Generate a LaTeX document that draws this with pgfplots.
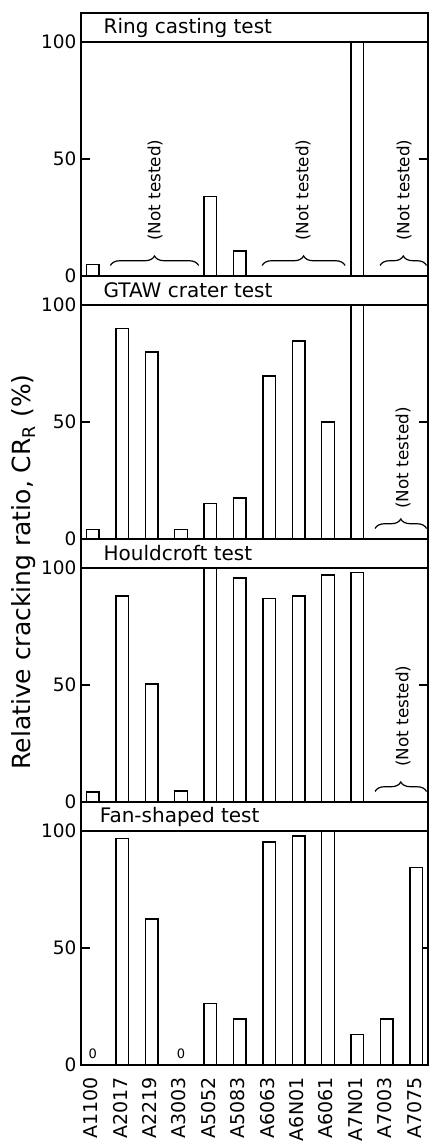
\documentclass[border=0pt]{standalone}
\usepackage{fontspec}
\setmainfont{DejaVu Sans}
\usepackage{pgfplots}
\pgfplotsset{compat=1.18}
\usetikzlibrary{decorations.pathreplacing}

\newcommand{\ntfont}{\fontsize{16.8}{16.8}\selectfont}
\newcommand{\ttlfont}{\fontsize{20}{20}\selectfont}

\tikzset{nt/.style={line width=1.2pt, decorate, decoration={brace, amplitude=9.5pt}}}

\pgfplotsset{
 panel/.style={
  scale only axis, width=347pt, height=263pt,
  anchor=north west,
  xmin=-0.4, xmax=11.4, ymin=0, ymax=112.4,
  axis line style={line width=1.8pt},
  ytick={0,50,100}, ytick pos=both, yticklabel pos=left,
  tick align=inside, major tick length=9pt,
  every tick/.style={black, line width=1.2pt},
  xtick=\empty,
  yticklabel style={font=\fontsize{18.5}{18.5}\selectfont, xshift=-1pt},
  /pgf/number format/assume math mode=true,
  ybar, bar width=12.5pt,
  clip=false,
 },
 barst/.style={draw=black, fill=white, line width=1.4pt, bar shift=0pt},
}

\begin{document}
\begin{tikzpicture}
\useasboundingbox (0,0) rectangle (430pt,-1141pt);

% Panel 1: Ring casting test
\begin{axis}[panel, at={(81pt,-13pt)}]
\addplot[barst] coordinates {(0,5) (4,34) (5,10.7) (9,100)};
\draw[line width=1.5pt] (axis cs:-0.4,100) -- (axis cs:11.4,100);
\node[anchor=west, font=\ttlfont] at (axis cs:0.25,106.2) {Ring casting test};
\draw[nt] (axis cs:0.6,4.5) -- (axis cs:3.6,4.5);
\node[rotate=90, anchor=west, font=\ntfont] at (axis cs:2.12,13.5) {(Not tested)};
\draw[nt] (axis cs:5.76,4.5) -- (axis cs:8.58,4.5);
\node[rotate=90, anchor=west, font=\ntfont] at (axis cs:7.15,13.5) {(Not tested)};
\draw[nt] (axis cs:9.77,4.5) -- (axis cs:11.35,4.5);
\node[rotate=90, anchor=west, font=\ntfont] at (axis cs:10.59,13.5) {(Not tested)};
\end{axis}

% Panel 2: GTAW crater test
\begin{axis}[panel, at={(81pt,-276pt)}]
\addplot[barst] coordinates {(0,4) (1,90) (2,80) (3,4) (4,15.3) (5,17.6) (6,69.7) (7,84.6) (8,50) (9,100)};
\draw[line width=1.5pt] (axis cs:-0.4,100) -- (axis cs:11.4,100);
\node[anchor=west, font=\ttlfont] at (axis cs:0.25,106.2) {GTAW crater test};
\draw[nt] (axis cs:9.6,4.5) -- (axis cs:11.35,4.5);
\node[rotate=90, anchor=west, font=\ntfont] at (axis cs:10.55,11.5) {(Not tested)};
\end{axis}

% Panel 3: Houldcroft test
\begin{axis}[panel, at={(81pt,-539pt)}]
\addplot[barst] coordinates {(0,4.3) (1,88) (2,50.5) (3,4.7) (4,100) (5,95.7) (6,87) (7,88) (8,97) (9,98)};
\draw[line width=1.5pt] (axis cs:-0.4,100) -- (axis cs:11.4,100);
\node[anchor=west, font=\ttlfont] at (axis cs:0.25,106.2) {Houldcroft test};
\draw[nt] (axis cs:9.6,4.5) -- (axis cs:11.35,4.5);
\node[rotate=90, anchor=west, font=\ntfont] at (axis cs:10.55,13.5) {(Not tested)};
\end{axis}

% Panel 4: Fan-shaped test
\begin{axis}[panel, at={(81pt,-802pt)},
  xtick={0,...,11},
  xticklabels={A1100,A2017,A2219,A3003,A5052,A5083,A6063,A6N01,A6061,A7N01,A7003,A7075},
  xtick style={draw=none},
  xticklabel style={rotate=90, anchor=east, font=\fontsize{19}{19}\selectfont, yshift=2pt},
]
\addplot[barst] coordinates {(1,96.7) (2,62.4) (4,26.2) (5,19.6) (6,95.3) (7,97.9) (8,100) (9,13) (10,19.6) (11,84.4)};
\draw[line width=1.5pt] (axis cs:-0.4,100) -- (axis cs:11.4,100);
\node[anchor=west, font=\ttlfont] at (axis cs:0.12,106.2) {Fan-shaped test};
\node[font=\fontsize{13}{13}\selectfont] at (axis cs:0,4.8) {0};
\node[font=\fontsize{13}{13}\selectfont] at (axis cs:3,4.8) {0};
\end{axis}

\node[rotate=90, font=\fontsize{25}{25}\selectfont] at (24pt,-572pt) {Relative cracking ratio, CR\textsubscript{R} (\%)};
\end{tikzpicture}
\end{document}
